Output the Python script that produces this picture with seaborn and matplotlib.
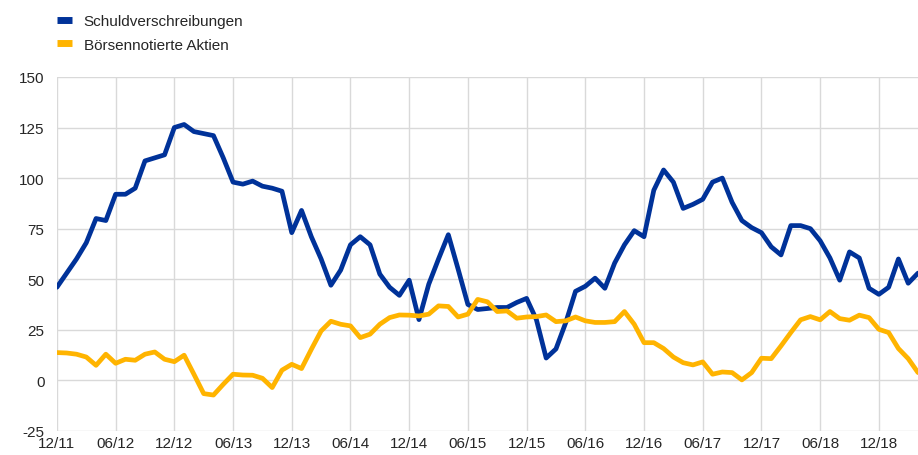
import numpy as np
import pandas as pd
import seaborn as sns
import matplotlib.pyplot as plt

# monthly data, 12/11 .. 04/19
months = pd.period_range('2011-12', '2019-04', freq='M')

schuld = [46, 53, 60, 68, 80, 79, 92, 92, 95, 108.5, 110, 111.5,
          125, 126.5, 123, 122, 121, 110, 98, 97, 98.5, 96, 95, 93.5,
          73, 84, 71, 60, 47, 54.5, 67, 71, 67, 52.5, 46, 42,
          49.5, 30, 47.5, 60, 72, 55, 37.5, 35, 35.5, 36, 36, 38.5,
          40.5, 30, 11, 15.5, 28.5, 44, 46.5, 50.5, 45.5, 58, 67, 74,
          71, 94, 104, 98, 85, 87, 89.5, 98, 100, 88, 79, 75.5,
          73, 66, 62, 76.5, 76.5, 75, 69, 60.5, 49.5, 63.5, 60.5, 45.5,
          42.5, 46, 60, 48, 53]
aktien = [13.7, 13.5, 12.9, 11.5, 7.4, 12.9, 8.4, 10.4, 9.9, 12.9, 14, 10.4,
          9.2, 12.4, 3, -6.6, -7.3, -2, 3, 2.6, 2.5, 1, -3.6, 5,
          7.9, 5.8, 15.3, 24.4, 29.2, 27.7, 26.9, 21.1, 22.8, 27.7, 31, 32.3,
          32.2, 31.8, 32.7, 36.8, 36.5, 31.3, 32.7, 40, 38.8, 34, 34.3, 30.7,
          31.3, 31.5, 32.3, 29, 29.4, 31.3, 29.4, 28.6, 28.6, 29, 34, 27.7,
          18.6, 18.6, 15.7, 11.5, 8.7, 7.6, 9.1, 3, 4.1, 3.8, 0.2, 3.8,
          10.9, 10.7, 17, 23.6, 29.9, 31.5, 29.9, 34, 30.5, 29.7, 32.2, 31,
          25.2, 23.6, 15.7, 10.7, 3.8]

labels = ['Schuldverschreibungen', 'Börsennotierte Aktien']
colors = ['#003299', '#ffb400']

idx = np.arange(len(months))
df = pd.DataFrame({
    'pos': np.concatenate([idx, idx]),
    'wert': schuld + aktien,
    'serie': [labels[0]] * len(idx) + [labels[1]] * len(idx),
})

sns.set_style('white')
plt.rcParams['font.family'] = ['Liberation Sans', 'DejaVu Sans']
plt.rcParams['axes.unicode_minus'] = False

fig = plt.figure(figsize=(9.18, 4.56), dpi=100)
ax = fig.add_axes([0.062, 0.053, 0.938, 0.776])

sns.lineplot(data=df, x='pos', y='wert', hue='serie', palette=colors,
             linewidth=3.4, ax=ax, legend=False)

tick_pos = idx[::6]
ax.set_xticks(tick_pos)
ax.set_xticklabels([m.strftime('%m/%y') for m in months[::6]], fontsize=11)
ax.set_xlim(0, len(idx) - 1)
ax.set_ylim(-25, 150)
ax.set_yticks(np.arange(-25, 151, 25))
ax.tick_params(axis='y', labelsize=11, length=0, pad=9)
ax.tick_params(axis='x', length=0, pad=4)
ax.set_xlabel('')
ax.set_ylabel('')
ax.grid(True, color='#d9d9d9', linewidth=1)
ax.set_axisbelow(True)
for s in ax.spines.values():
    s.set_visible(False)

handles = [plt.Line2D([], [], color=c, linewidth=5, solid_capstyle='butt')
           for c in colors]
fig.legend(handles, labels, loc='upper left', bbox_to_anchor=(0.062, 0.967),
           frameon=False, fontsize=11, handlelength=1.0, handletextpad=0.75,
           labelspacing=0.63, borderpad=0, borderaxespad=0)

fig.savefig('out.png', dpi=100)
